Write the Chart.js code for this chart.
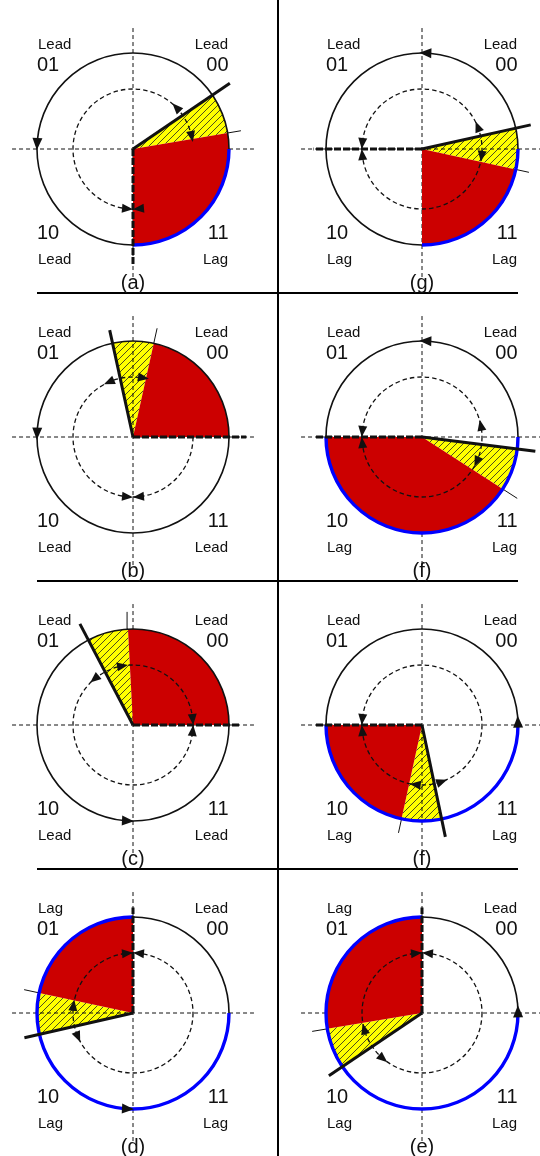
<!DOCTYPE html>
<html><head><meta charset="utf-8">
<script src="https://cdn.jsdelivr.net/npm/chart.js@4.4.1/dist/chart.umd.min.js"></script>
<style>
html,body{margin:0;padding:0;background:#fff;width:540px;height:1156px;overflow:hidden;position:relative}
canvas{position:absolute}
.rule{position:absolute;background:#000}
</style></head><body>
<div class="rule" style="left:277px;top:0;width:2px;height:1156px"></div>
<div class="rule" style="left:37px;top:292px;width:481px;height:2px"></div>
<div class="rule" style="left:37px;top:580px;width:481px;height:2px"></div>
<div class="rule" style="left:37px;top:868px;width:481px;height:2px"></div>
<script>
// ---- data (row-major: a, g / b, f / c, f / d, e) ----
const panelTags      = ['(a)','(g)','(b)','(f)','(c)','(f)','(d)','(e)'];
const quadrantCodes  = ['01','00','10','11'];
const modeTopLeft    = ['Lead','Lead','Lead','Lead','Lead','Lead','Lag','Lag'];
const modeTopRight   = ['Lead','Lead','Lead','Lead','Lead','Lead','Lead','Lead'];
const modeBotLeft    = ['Lead','Lag','Lead','Lag','Lead','Lag','Lag','Lag'];
const modeBotRight   = ['Lag','Lag','Lead','Lag','Lead','Lag','Lag','Lag'];
const redStartDeg    = [-90, -90, 0, 180, 0, 180, 90, 90];
const redEndDeg      = [9.6, -12.3, 77.5, 327.2, 93, 257.7, 167.9, 189.5];
const heavyLineDeg   = [34.2, 12.5, 102.3, 352.8, 117.7, 281.8, 192.8, 214];
const heavyLineLen   = [1.22, 1.16, 1.14, 1.19, 1.19, 1.19, 1.16, 1.17];
const lightLineLen   = [1.14, 1.14, 1.16, 1.18, 1.18, 1.15, 1.16, 1.16];
const refLineDeg     = [-90, 180, 0, 180, 0, 180, 90, 90];
const refLineLen     = [1.22, 1.13, 1.18, 1.11, 1.11, 1.11, 1.10, 1.10];
const blueStartDeg   = [-90, -90, null, 180, null, 180, 90, 90];
const blueEndDeg     = [0, 0, null, 360, null, 360, 360, 360];
const outerArrowDeg  = [177, 88, 178, 88, 267, 2, 267, 1];
const innerCcwDeg    = [44, 22, 113.6, 11.3, 130, 289.4, 203.6, 229.6];
const innerCwDeg     = [12, -7, 80, -24.4, 100, 263.5, 172.6, 195.3];
const innerMeetDeg   = [270, 180, 270, 180, 0, 180, 90, 90];
const innerOverRed   = [false, true, false, true, true, true, true, true];
const outerRadius = 1, innerRadius = 0.625;
const axisH = [-1.26, 1.26], axisV = [1.26, -1.36];

const FONT = '"Liberation Sans", Arial, sans-serif';
const RED = '#cc0000', BLUE = '#0000ff', INK = '#111';

function hatchPattern(ctx){
  const c = document.createElement('canvas'); c.width = 7; c.height = 7;
  const g = c.getContext('2d');
  g.fillStyle = '#ffff00'; g.fillRect(0,0,7,7);
  g.strokeStyle = '#3a3a20'; g.lineWidth = 0.9;
  g.beginPath();
  g.moveTo(-1,8); g.lineTo(8,-1);
  g.stroke();
  return ctx.createPattern(c,'repeat');
}
const rad = d => d*Math.PI/180;
function polar(r, deg){ return {x: r*Math.cos(rad(deg)), y: r*Math.sin(rad(deg))}; }

function geom(chart){
  const xs = chart.scales.x, ys = chart.scales.y;
  const cx = xs.getPixelForValue(0), cy = ys.getPixelForValue(0);
  const u = xs.getPixelForValue(1) - cx;
  return {cx, cy, u};
}
function sector(ctx, g, r, a1, a2){
  ctx.beginPath(); ctx.moveTo(g.cx, g.cy);
  ctx.arc(g.cx, g.cy, r*g.u, -rad(a1), -rad(a2), true);
  ctx.closePath();
}
function head(ctx, x, y, dx, dy, len, wid){
  const tx = x + dx*len/2, ty = y + dy*len/2, bx = x - dx*len/2, by = y - dy*len/2;
  const nx = -dy, ny = dx;
  ctx.beginPath(); ctx.moveTo(tx,ty);
  ctx.lineTo(bx+nx*wid/2, by+ny*wid/2); ctx.lineTo(bx-nx*wid/2, by-ny*wid/2);
  ctx.closePath(); ctx.fill();
}
function arcHead(ctx, g, r, deg, ccw, len, wid){
  const t = rad(deg);
  const x = g.cx + r*g.u*Math.cos(t), y = g.cy - r*g.u*Math.sin(t);
  const dx = ccw ? -Math.sin(t) : Math.sin(t), dy = ccw ? -Math.cos(t) : Math.cos(t);
  head(ctx, x, y, dx, dy, len, wid);
}

function makePanel(i){
  const col = i % 2, row = Math.floor(i/2);
  const cxPage = col === 0 ? 133.3 : 421.7, cyPage = 149 + row*288;
  const cv = document.createElement('canvas');
  cv.width = 288; cv.height = 288;
  cv.style.left = (cxPage-144)+'px'; cv.style.top = (cyPage-144)+'px';
  document.body.appendChild(cv);
  const ctx0 = cv.getContext('2d');
  const pat = hatchPattern(ctx0);

  const hp = polar(heavyLineLen[i], heavyLineDeg[i]);
  const lp0 = polar(outerRadius, redEndDeg[i]), lp1 = polar(lightLineLen[i], redEndDeg[i]);
  const rp = polar(refLineLen[i], refLineDeg[i]);

  const plugin = {
    id: 'phasor'+i,
    beforeDatasetsDraw(chart){
      const ctx = chart.ctx, g = geom(chart);
      ctx.save();
      sector(ctx, g, outerRadius, redEndDeg[i], heavyLineDeg[i]);
      ctx.fillStyle = pat; ctx.fill();
      ctx.restore();
    },
    beforeDatasetDraw(chart, args){
      if (args.index !== 1) return;
      const ctx = chart.ctx, g = geom(chart);
      ctx.save();
      const inner = () => {
        ctx.beginPath(); ctx.setLineDash([4.5,3]); ctx.lineWidth = 1.3; ctx.strokeStyle = INK;
        ctx.arc(g.cx, g.cy, innerRadius*g.u, 0, Math.PI*2); ctx.stroke(); ctx.setLineDash([]);
      };
      if (!innerOverRed[i]) inner();
      sector(ctx, g, outerRadius, redStartDeg[i], redEndDeg[i]);
      ctx.fillStyle = RED; ctx.fill();
      if (innerOverRed[i]) inner();
      ctx.beginPath(); ctx.lineWidth = 1.6; ctx.strokeStyle = INK;
      ctx.arc(g.cx, g.cy, outerRadius*g.u, 0, Math.PI*2); ctx.stroke();
      if (blueStartDeg[i] !== null){
        ctx.beginPath(); ctx.lineWidth = 3.4; ctx.strokeStyle = BLUE; ctx.lineCap = 'butt';
        ctx.arc(g.cx, g.cy, outerRadius*g.u, -rad(blueStartDeg[i]), -rad(blueEndDeg[i]), true);
        ctx.stroke();
      }
      ctx.restore();
    },
    afterDatasetsDraw(chart){
      const ctx = chart.ctx, g = geom(chart);
      ctx.save();
      ctx.fillStyle = INK;
      // outer arrow (counter-clockwise travel)
      arcHead(ctx, g, outerRadius, outerArrowDeg[i], true, 12, 10);
      // inner arrows leaving the hatched band
      arcHead(ctx, g, innerRadius, innerCcwDeg[i], true, 11, 9);
      arcHead(ctx, g, innerRadius, innerCwDeg[i], false, 11, 9);
      // inner arrows meeting
      const dDeg = (5.5/(innerRadius*g.u))*180/Math.PI;
      arcHead(ctx, g, innerRadius, innerMeetDeg[i]-dDeg, true, 11, 9);
      arcHead(ctx, g, innerRadius, innerMeetDeg[i]+dDeg, false, 11, 9);
      // labels
      const xs = chart.scales.x, ys = chart.scales.y;
      ctx.textBaseline = 'middle';
      const txt = (s, x, y, size, align) => {
        ctx.font = size+'px '+FONT; ctx.textAlign = align;
        ctx.fillText(s, xs.getPixelForValue(x), ys.getPixelForValue(y));
      };
      txt(modeTopLeft[i], -0.99, 1.09, 15, 'left');
      txt(quadrantCodes[0], -1.0, 0.875, 20, 'left');
      txt(modeTopRight[i], 0.99, 1.09, 15, 'right');
      txt(quadrantCodes[1], 0.995, 0.875, 20, 'right');
      txt(quadrantCodes[2], -1.0, -0.878, 20, 'left');
      txt(modeBotLeft[i], -0.99, -1.15, 15, 'left');
      txt(quadrantCodes[3], 0.995, -0.878, 20, 'right');
      txt(modeBotRight[i], 0.99, -1.15, 15, 'right');
      txt(panelTags[i], 0, -1.40, 20, 'center');
      ctx.restore();
    }
  };

  const line = (pts, w, dash) => ({data: pts, showLine: true, borderColor: INK, borderWidth: w,
    borderDash: dash, pointRadius: 0, fill: false, borderCapStyle: 'butt'});

  new Chart(cv, {
    type: 'scatter',
    data: { datasets: [
      line([{x:0,y:0}, rp], 3, [7,2]),
      line([{x:0,y:0}, hp], 3, []),
      line([lp0, lp1], 1, []),
      line([{x:0,y:axisV[0]},{x:0,y:axisV[1]}], 1, [4,3]),
      line([{x:axisH[0],y:0},{x:axisH[1],y:0}], 1, [4,3])
    ]},
    options: {
      responsive: false, animation: false,
      layout: {padding: 0},
      plugins: {legend:{display:false}, tooltip:{enabled:false}},
      scales: {
        x: {type:'linear', min:-1.5, max:1.5, display:false},
        y: {type:'linear', min:-1.5, max:1.5, display:false}
      }
    },
    plugins: [plugin]
  });
}
for (let i = 0; i < 8; i++) makePanel(i);
</script>
</body></html>
